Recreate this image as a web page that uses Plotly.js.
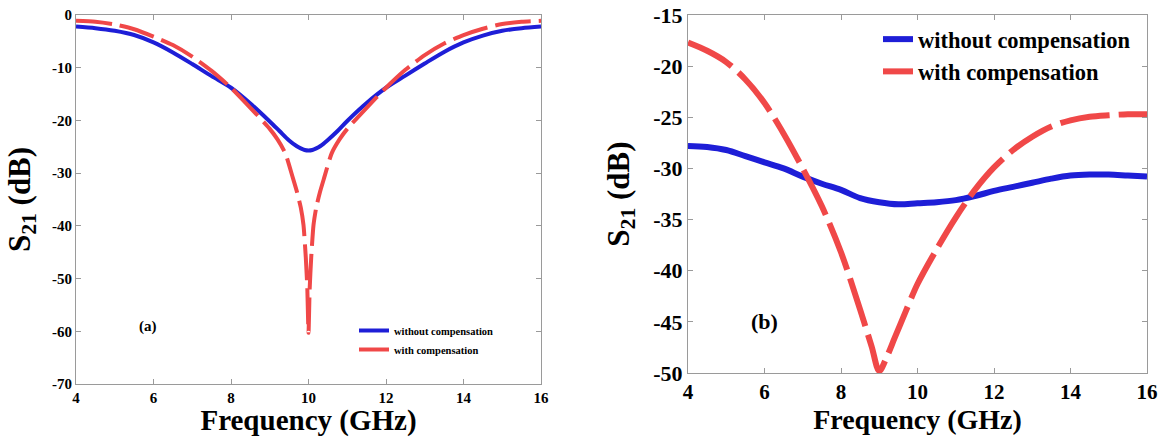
<!DOCTYPE html>
<html>
<head>
<meta charset="utf-8">
<script src="https://cdn.plot.ly/plotly-3.0.1.min.js"></script>
<style>
  html, body { margin: 0; padding: 0; background: #ffffff; }
  #chart { width: 1165px; height: 437px; }
</style>
</head>
<body>
<div id="chart"></div>
<script>
// ---------- data ----------
// Panel (a)
const freqA_without = [4, 4.5, 5, 5.5, 6, 6.5, 7, 7.5, 8, 8.5, 9, 9.25, 9.5, 9.7, 9.8, 9.9, 10, 10.1, 10.2, 10.3, 10.5, 10.75, 11, 11.5, 12, 12.5, 13, 13.5, 14, 14.5, 15, 15.5, 16];
const s21A_without  = [-2.2, -2.5, -3.0, -3.8, -5.2, -7.1, -9.3, -11.6, -13.8, -16.8, -20.2, -22.0, -23.8, -24.9, -25.3, -25.6, -25.7, -25.6, -25.3, -24.9, -23.7, -22.0, -20.1, -16.7, -13.8, -11.5, -9.2, -7.0, -5.2, -3.9, -3.0, -2.5, -2.2];

const freqA_with = [4, 4.5, 5, 5.5, 6, 6.5, 7, 7.5, 8, 8.5, 9, 9.2, 9.4, 9.6, 9.7, 9.8, 9.87, 9.93, 9.97, 10, 10.03, 10.07, 10.13, 10.2, 10.3, 10.4, 10.6, 10.8, 11, 11.5, 12, 12.5, 13, 13.5, 14, 14.5, 15, 15.5, 16];
const s21A_with  = [-1.1, -1.3, -1.8, -2.7, -4.1, -5.7, -7.9, -10.6, -13.8, -17.6, -21.6, -23.6, -26.2, -31.0, -33.5, -36.5, -39.8, -46.0, -52.0, -60.3, -52.0, -46.0, -39.8, -36.5, -33.5, -31.0, -26.2, -23.6, -21.6, -17.6, -13.8, -10.4, -7.6, -5.4, -3.8, -2.6, -1.7, -1.3, -1.1];

// Panel (b)
const freqB_without = [4, 4.5, 5, 5.5, 6, 6.5, 7, 7.5, 8, 8.5, 9, 9.5, 10, 10.5, 11, 11.5, 12, 12.5, 13, 13.5, 14, 14.5, 15, 15.5, 16];
const s21B_without  = [-27.8, -27.9, -28.2, -28.8, -29.4, -30.0, -30.8, -31.5, -32.1, -32.9, -33.3, -33.5, -33.4, -33.3, -33.1, -32.7, -32.2, -31.8, -31.4, -31.0, -30.7, -30.6, -30.6, -30.7, -30.8];

const freqB_with = [4, 4.5, 5, 5.5, 6, 6.5, 7, 7.5, 8, 8.5, 8.8, 9.0, 9.2, 9.4, 9.7, 10, 10.5, 11, 11.5, 12, 12.5, 13, 13.5, 14, 14.5, 15, 15.5, 16];
const s21B_with  = [-17.7, -18.5, -19.6, -21.3, -23.6, -26.6, -30.0, -33.7, -38.2, -43.8, -47.4, -49.8, -48.4, -46.6, -43.9, -41.3, -37.9, -34.8, -32.1, -29.9, -28.2, -26.9, -25.9, -25.3, -24.95, -24.8, -24.7, -24.7];

const seriesNames = ['without compensation', 'with compensation'];
const xTicks = [4, 6, 8, 10, 12, 14, 16];
const yTicksA = [0, -10, -20, -30, -40, -50, -60, -70];
const yTicksB = [-15, -20, -25, -30, -35, -40, -45, -50];
const panelLabels = ['(a)', '(b)'];

// ---------- styling ----------
const SERIF = 'Liberation Serif, Times New Roman, serif';
const BLUE = 'rgb(30,30,215)';
const RED = 'rgb(240,72,72)';
const FRAME = '#9a9a9a';

const traces = [
  { x: freqA_without, y: s21A_without, name: seriesNames[0], type: 'scatter', mode: 'lines',
    xaxis: 'x', yaxis: 'y', legend: 'legend',
    line: { color: BLUE, width: 4, shape: 'spline', smoothing: 0.8 } },
  { x: freqA_with, y: s21A_with, name: seriesNames[1], type: 'scatter', mode: 'lines',
    xaxis: 'x', yaxis: 'y', legend: 'legend',
    line: { color: RED, width: 4, dash: '36px,8px', shape: 'spline', smoothing: 0.6 } },
  { x: freqB_without, y: s21B_without, name: seriesNames[0], type: 'scatter', mode: 'lines',
    xaxis: 'x2', yaxis: 'y2', legend: 'legend2',
    line: { color: BLUE, width: 6, shape: 'spline', smoothing: 1 } },
  { x: freqB_with, y: s21B_with, name: seriesNames[1], type: 'scatter', mode: 'lines',
    xaxis: 'x2', yaxis: 'y2', legend: 'legend2',
    line: { color: RED, width: 6, dash: '50px,9px', shape: 'spline', smoothing: 0.9 } }
];

function axisBase(extra) {
  return Object.assign({
    showline: true, linecolor: FRAME, linewidth: 1, mirror: 'allticks',
    ticks: 'inside', ticklen: 5, tickcolor: FRAME, tickwidth: 1,
    showgrid: false, zeroline: false, fixedrange: true,
  }, extra);
}

const layout = {
  width: 1165, height: 437,
  margin: { l: 0, r: 0, t: 0, b: 0 },
  paper_bgcolor: '#ffffff', plot_bgcolor: '#ffffff',
  font: { family: SERIF, color: '#000000', weight: 'bold' },
  showlegend: true,
  xaxis: axisBase({
    domain: [76 / 1165, 541 / 1165], range: [4, 16], anchor: 'y',
    tickvals: xTicks, ticktext: xTicks.map(String),
    tickfont: { family: SERIF, size: 15, color: '#000', weight: 'bold' },
    title: { text: 'Frequency (GHz)', font: { family: SERIF, size: 29, color: '#000', weight: 'bold' }, standoff: 2 }
  }),
  yaxis: axisBase({
    domain: [1 - 384 / 437, 1 - 15 / 437], range: [-70, 0], anchor: 'x',
    tickvals: yTicksA, ticktext: yTicksA.map(String),
    tickfont: { family: SERIF, size: 15, color: '#000', weight: 'bold' },
    title: { text: 'S<sub>21</sub> (dB)', font: { family: SERIF, size: 31, color: '#000', weight: 'bold' }, standoff: 12 }
  }),
  xaxis2: axisBase({
    domain: [688 / 1165, 1147 / 1165], range: [4, 16], anchor: 'y2',
    tickvals: xTicks, ticktext: xTicks.map(String),
    tickfont: { family: SERIF, size: 21, color: '#000', weight: 'bold' },
    title: { text: 'Frequency (GHz)', font: { family: SERIF, size: 28, color: '#000', weight: 'bold' }, standoff: 0 }
  }),
  yaxis2: axisBase({
    domain: [1 - 373 / 437, 1 - 15 / 437], range: [-50, -15], anchor: 'x2',
    tickvals: yTicksB, ticktext: yTicksB.map(String),
    tickfont: { family: SERIF, size: 22, color: '#000', weight: 'bold' },
    title: { text: 'S<sub>21</sub> (dB)', font: { family: SERIF, size: 31, color: '#000', weight: 'bold' }, standoff: 14 }
  }),
  legend: {
    x: 354 / 1165, y: 1 - 316 / 437, xanchor: 'left', yanchor: 'top',
    bgcolor: 'rgba(0,0,0,0)', borderwidth: 0, tracegroupgap: 0,
    font: { family: SERIF, size: 10.5, color: '#000', weight: 'bold' }
  },
  legend2: {
    x: 878 / 1165, y: 1 - 18 / 437, xanchor: 'left', yanchor: 'top',
    bgcolor: 'rgba(0,0,0,0)', borderwidth: 0, tracegroupgap: 0,
    font: { family: SERIF, size: 22.5, color: '#000', weight: 'bold' }
  },
  annotations: [
    { text: panelLabels[0], xref: 'x', yref: 'y', x: 5.86, y: -59, showarrow: false,
      font: { family: SERIF, size: 15, color: '#000', weight: 'bold' } },
    { text: panelLabels[1], xref: 'x2', yref: 'y2', x: 6.0, y: -45, showarrow: false,
      font: { family: SERIF, size: 22, color: '#000', weight: 'bold' } }
  ]
};

Plotly.newPlot('chart', traces, layout, { staticPlot: true, displayModeBar: false });
</script>
</body>
</html>
